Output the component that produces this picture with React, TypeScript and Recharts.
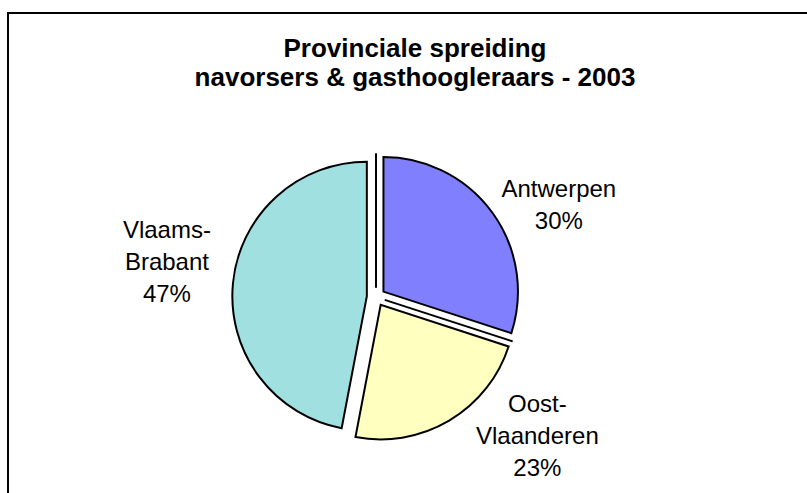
import { PieChart, Pie, Cell, Sector } from 'recharts'

const provinces = ['Antwerpen', 'Oost-Vlaanderen', 'Vlaams-Brabant']
const shares = [30, 23, 47]
const colors = ['#8080ff', '#ffffc0', '#a0e0e0']
const titleLines = ['Provinciale spreiding', 'navorsers & gasthoogleraars - 2003']

const data = provinces.map((name, i) => ({ name, value: shares[i] }))

const RAD = Math.PI / 180
const EXPLODE = 9.2
const LABEL_R = 205
// excel "best fit" moves the labels a bit off the radial line
const LABEL_NUDGE = [
  [17, 28],
  [57, -38],
  [-5, -16],
]
const FONT = '"Liberation Sans", Arial, sans-serif'

const polar = (cx: number, cy: number, r: number, angle: number) => [
  cx + r * Math.cos(-angle * RAD),
  cy + r * Math.sin(-angle * RAD),
]

function ExplodedSlice(props: any) {
  const { cx, cy, midAngle, outerRadius, startAngle, endAngle, name } = props
  const [x, y] = polar(cx, cy, EXPLODE, midAngle)
  const first = name === provinces[0]
  return (
    <g>
      {first &&
        [startAngle, endAngle].map((a: number) => {
          const [x1, y1] = polar(cx, cy, EXPLODE, a)
          const [x2, y2] = polar(cx, cy, outerRadius + EXPLODE, a)
          return <line key={a} x1={x1} y1={y1} x2={x2} y2={y2} stroke="#000" strokeWidth={2} />
        })}
      <Sector {...props} cx={x} cy={y} />
    </g>
  )
}

function SliceLabel(props: any) {
  const { cx, cy, midAngle, percent, name, index } = props
  const [bx, by] = polar(cx, cy, LABEL_R, midAngle)
  const [nx, ny] = LABEL_NUDGE[index] || [0, 0]
  const lines = [...String(name).replace('-', '-\n').split('\n'), `${Math.round(percent * 100)}%`]
  const x = bx + nx
  const top = by + ny - (lines.length - 1) * 16 + 8.5
  return (
    <text x={x} y={top} textAnchor="middle" fontFamily={FONT} fontSize={24} fill="#000">
      {lines.map((l, i) => (
        <tspan key={i} x={x} y={top + i * 32}>
          {l}
        </tspan>
      ))}
    </text>
  )
}

export default function App() {
  return (
    <div
      style={{
        position: 'absolute',
        left: 0,
        top: 0,
        width: 807,
        height: 493,
        overflow: 'hidden',
        background: '#fff',
      }}
    >
      <svg width={807} height={493} style={{ position: 'absolute', left: 0, top: 0 }}>
        <rect x={8} y={13} width={1000} height={1000} fill="none" stroke="#000" strokeWidth={2} />
        {titleLines.map((t, i) => (
          <text
            key={t}
            x={415}
            y={56.7 + i * 29}
            textAnchor="middle"
            fontFamily={FONT}
            fontWeight="bold"
            fontSize={26}
            fill="#000"
          >
            {t}
          </text>
        ))}
      </svg>
      <div style={{ position: 'absolute', left: 0, top: 0 }}>
        <PieChart width={807} height={493} margin={{ top: 0, right: 0, bottom: 0, left: 0 }}>
          <Pie
            data={data}
            dataKey="value"
            nameKey="name"
            cx={376}
            cy={297}
            outerRadius={134.5}
            startAngle={90}
            endAngle={-270}
            stroke="#000"
            strokeWidth={2}
            shape={ExplodedSlice}
            activeShape={ExplodedSlice}
            inactiveShape={ExplodedSlice}
            label={SliceLabel}
            labelLine={false}
            isAnimationActive={false}
          >
            {data.map((d, i) => (
              <Cell key={d.name} fill={colors[i]} />
            ))}
          </Pie>
        </PieChart>
      </div>
    </div>
  )
}
